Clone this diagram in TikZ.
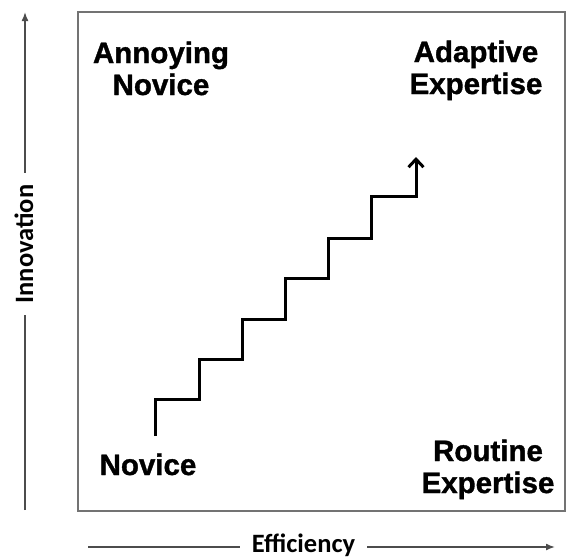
\documentclass[tikz,border=0pt]{standalone}
\usepackage{fontspec}
\setmainfont{Liberation Sans}[BoldFeatures={FakeBold=1.2}]
\newfontfamily\axisfont{Carlito}
\usetikzlibrary{arrows.meta}
\begin{document}
\begin{tikzpicture}[x=1pt,y=-1pt,
  quadlabel/.style={font=\fontsize{29.5}{32}\selectfont\bfseries, align=center, inner sep=0pt, anchor=base},
  axislabel/.style={font=\axisfont\fontsize{26.5}{30}\selectfont\bfseries, fill=white, inner xsep=12pt, inner ysep=2pt},
  axisline/.style={draw=black!70, line width=1.5pt, -{Latex[length=9pt,width=7pt]}},
  frameline/.style={draw=black!55, line width=2pt},
  stairline/.style={draw=black, line width=3pt, line join=miter, -{Straight Barb[length=8pt,width=15pt,line width=3pt]}}]
  \useasboundingbox (0,0) rectangle (566,558);
  % plot frame
  \draw[frameline] (78,12) rectangle (565,511);
  % axes
  \coordinate (y0) at (25,510);
  \coordinate (y1) at (25,12);
  \coordinate (x0) at (88,547);
  \coordinate (x1) at (555,547);
  \draw[axisline] (y0) -- (y1);
  \draw[axisline] (x0) -- (x1);
  \node[axislabel, rotate=90] (innov) at (24,244) {Innovation};
  \node[axislabel] (effic) at (303.5,545) {Efficiency};
  % quadrant labels (anchored at the baseline of the last line)
  \node[quadlabel] (annoying) at (161,95) {Annoying\\Novice};
  \node[quadlabel] (adaptive) at (476,94) {Adaptive\\Expertise};
  \node[quadlabel] (novice) at (148,475) {Novice};
  \node[quadlabel] (routine) at (488,493) {Routine\\Expertise};
  % staircase
  \draw[stairline] (155,436) -- (155,399) -- (199,399) -- (199,359) -- (242,359)
    -- (242,319) -- (285,319) -- (285,278) -- (328,278) -- (328,238)
    -- (371,238) -- (371,196) -- (416,196) -- (416,157);
\end{tikzpicture}
\end{document}
